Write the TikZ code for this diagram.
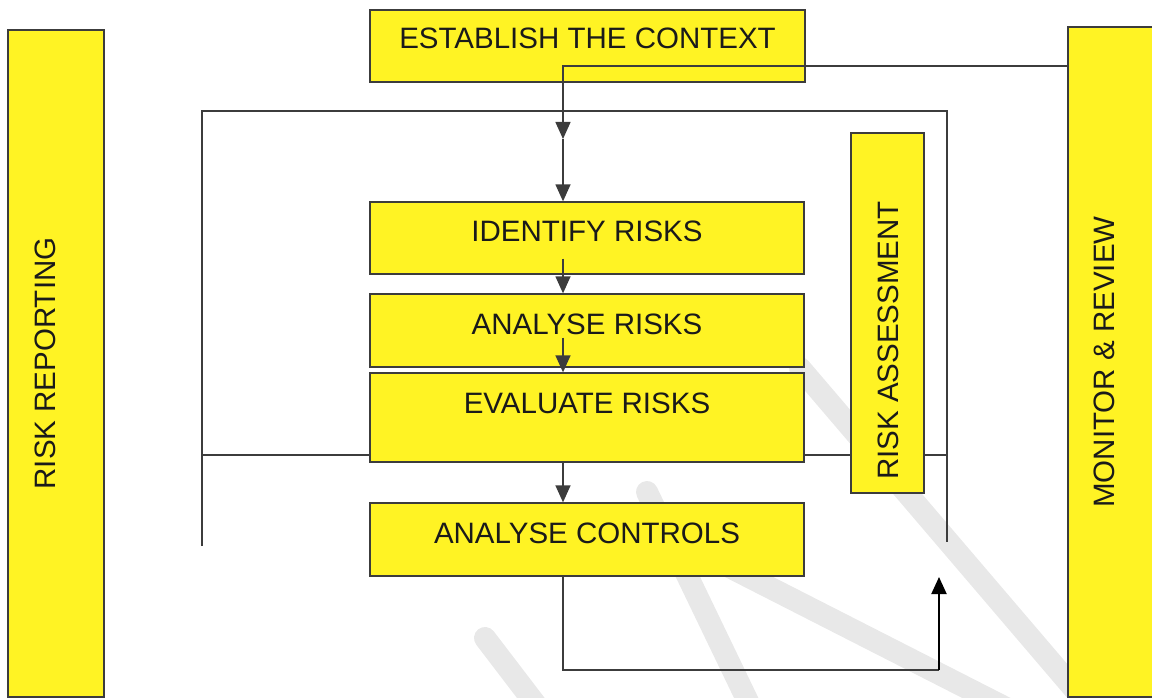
\documentclass[tikz,border=0pt]{standalone}
\usepackage{fontspec}
\setmainfont{Liberation Sans}
\usepackage{xcolor}
\usepackage{tikz}
\usetikzlibrary{arrows.meta,positioning,calc}
\definecolor{RiskYellow}{HTML}{FFF324}
\definecolor{RiskLine}{HTML}{3C3C3C}
\definecolor{RiskInk}{HTML}{1A1A1A}
\definecolor{RiskMark}{HTML}{E8E8E8}

\begin{document}
\begin{tikzpicture}[x=1pt,y=-1pt,>={Triangle[length=17pt,width=15pt]},
  font=\fontsize{29.5}{34}\selectfont,text=RiskInk,
  box/.style={draw=RiskLine,line width=1.3pt,fill=RiskYellow,inner sep=0pt,
    minimum width=434pt},
  tall/.style={box,rotate=90,minimum width=#1},
  link/.style={draw=RiskLine,line width=1.4pt},
  wmark/.style={draw=RiskMark,line width=22pt,line cap=round}]
  \useasboundingbox (0,0) rectangle (1152,698);
  % faint scan watermark
  \draw[wmark] (485,638) -- (540,710);
  \draw[wmark] (647,492) -- (752,710);
  \draw[wmark] (700,552) -- (1010,710);
  \draw[wmark] (800,368) -- (1075,690);
  % side bars
  \node[tall=667pt,text height=47.6pt,text depth=48.4pt] (RR) at (56,363.5)
    {RISK REPORTING};
  \node[tall=670pt,text height=46.6pt,text depth=45.4pt] (MR) at (1114,362)
    {MONITOR \& REVIEW};
  \node[tall=360pt,text height=47.6pt,text depth=25.4pt] (RA) at (887.5,313)
    {RISK ASSESSMENT\hspace*{55pt}};
  % process steps
  \node[box,minimum width=435pt,text height=38.6pt,text depth=33.4pt] (EC)
    at (587.5,46) {ESTABLISH THE CONTEXT};
  \node[box,text height=39.6pt,text depth=32.4pt] (IR) at (587,238)
    {IDENTIFY RISKS};
  \node[box,text height=40.1pt,text depth=32.9pt] (AR) at (587,330.5)
    {ANALYSE RISKS};
  \node[box,text height=40.6pt,text depth=48.4pt] (ER) at (587,417.5)
    {EVALUATE RISKS};
  \node[box,text height=40.1pt,text depth=32.9pt] (AC) at (587,539.5)
    {ANALYSE CONTROLS};
  % frame round the assessment
  \coordinate (frameLB) at (202,546);
  \coordinate (frameLT) at (202,111);
  \coordinate (frameRT) at (947,111);
  \coordinate (frameRB) at (947,542);
  \coordinate (barL) at (202,455);
  \coordinate (barR) at (947,455);
  \draw[link] (frameLB) -- (frameLT) -- (frameRT) -- (frameRB);
  \draw[link] (barL) -- (ER.west |- barL);
  \draw[link] (ER.east |- barL) -- (RA.north |- barL);
  \draw[link] (RA.south |- barL) -- (barR);
  % flow
  \coordinate (ctxturn) at (563,66);
  \coordinate (ctxmid) at (563,139);
  \draw[link,->] (MR.north |- ctxturn) -- (ctxturn) -- (ctxmid);
  \draw[link,->] (ctxmid) -- (IR.north -| ctxmid);
  \draw[link,->] ($(IR.south -| ctxturn)+(0,-16)$) -- (AR.north -| ctxturn);
  \draw[link,->] ($(AR.south -| ctxturn)+(0,-30)$) -- (ER.north -| ctxturn);
  \draw[link,->] (ER.south -| ctxturn) -- (AC.north -| ctxturn);
  \coordinate (loopR) at (939,670);
  \coordinate (loopTip) at (939,577);
  \draw[link] (AC.south -| ctxturn) |- (loopR);
  \draw[link,draw=black,line width=2pt,->] (loopR) -- (loopTip);
\end{tikzpicture}
\end{document}
